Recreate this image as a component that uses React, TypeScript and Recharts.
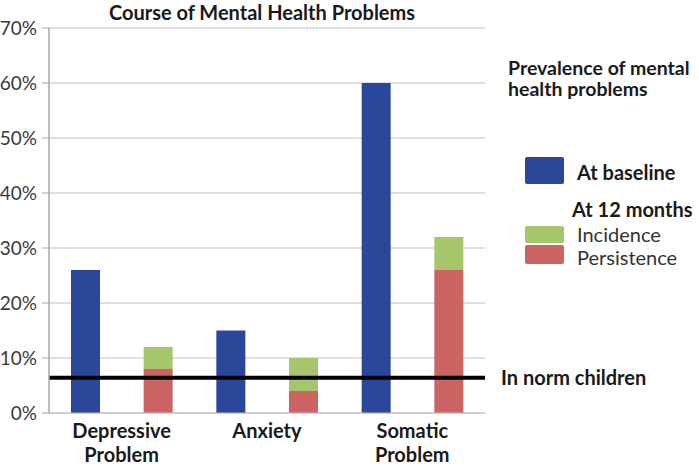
import React from 'react';
import {
  BarChart,
  Bar,
  XAxis,
  YAxis,
  CartesianGrid,
  ReferenceLine,
  Legend
} from 'recharts';

// values (percent of children)
const categories = ['Depressive Problem', 'Anxiety', 'Somatic Problem'];
const atBaseline = [26, 15, 60];
const persistence = [8, 4, 26];
const incidence = [4, 6, 6];
const normLevel = 6.4;
const yTicks = [0, 10, 20, 30, 40, 50, 60, 70];

const COLORS = {
  baseline: '#2B479A',
  incidence: '#A5C66B',
  persistence: '#CB6462'
};

const FONT = 'Lato, "Open Sans", sans-serif';

// each problem takes two slots: baseline bar, then the 12-month stack
const rows = categories.flatMap((name, i) => [
  { slot: `${name}|base`, name, baseline: atBaseline[i] },
  { slot: `${name}|12m`, name, persistence: persistence[i], incidence: incidence[i] }
]);

const GroupTick = (props: any) => {
  const { x, y, index, payload } = props;
  if (index % 2 !== 0) return null;
  const name = String(payload.value).split('|')[0];
  const words = name.split(' ');
  const cx = x + 36.3;
  return (
    <text
      x={cx}
      y={y}
      textAnchor="middle"
      fill="#1a1a1a"
      fontFamily={FONT}
      fontWeight={700}
      fontSize={20}
    >
      {words.map((w, k) => (
        <tspan key={k} x={cx} dy={k === 0 ? 17 : 24}>
          {w}
        </tspan>
      ))}
    </text>
  );
};

const LegendBox = () => {
  const abs = (left: number, top: number): React.CSSProperties => ({
    position: 'absolute',
    left,
    top,
    whiteSpace: 'nowrap',
    lineHeight: '22px'
  });
  const sw = (color: string, top: number, h: number) => (
    <div
      style={{
        position: 'absolute',
        left: 35,
        top,
        width: 39,
        height: h,
        background: color,
        borderRadius: 2
      }}
    />
  );
  return (
    <div style={{ position: 'relative', width: 209, height: 230, fontFamily: FONT, color: '#1a1a1a', fontSize: 20, textAlign: 'left' }}>
      <div style={{ ...abs(18, 7), fontWeight: 700, fontSize: 19.5, lineHeight: '21px' }}>
        Prevalence of mental
        <br />
        health problems
      </div>
      {sw(COLORS.baseline, 107, 27)}
      <div style={{ ...abs(87, 111), fontWeight: 700 }}>At baseline</div>
      <div style={{ ...abs(82, 148), fontWeight: 700 }}>At 12 months</div>
      {sw(COLORS.incidence, 176, 17)}
      <div style={{ ...abs(87, 173), color: '#333' }}>Incidence</div>
      {sw(COLORS.persistence, 195, 19)}
      <div style={{ ...abs(87, 196), color: '#333' }}>Persistence</div>
    </div>
  );
};

export default function App() {
  return (
    <div style={{ position: 'absolute', left: 0, top: 0, width: 699, height: 467, background: '#fff' }}>
      <div
        style={{
          position: 'absolute',
          left: 0,
          width: 524,
          top: 0,
          lineHeight: '24px',
          textAlign: 'center',
          fontFamily: FONT,
          fontWeight: 700,
          fontSize: 20,
          color: '#1a1a1a'
        }}
      >
        Course of Mental Health Problems
      </div>
      <BarChart
        width={699}
        height={467}
        data={rows}
        margin={{ top: 28, right: 214, left: 0, bottom: 24 }}
        barCategoryGap="20%"
      >
        <CartesianGrid vertical={false} stroke="#BFBFBF" strokeWidth={1.2} />
        <XAxis
          dataKey="slot"
          height={30}
          interval={0}
          tickLine={false}
          axisLine={{ stroke: '#BFBFBF' }}
          tick={<GroupTick />}
        />
        <YAxis
          width={49}
          domain={[0, 70]}
          ticks={yTicks}
          tickFormatter={(v: number) => `${v}%`}
          tickSize={7}
          tickMargin={5}
          tickLine={{ stroke: '#A6A6A6' }}
          axisLine={{ stroke: '#A6A6A6', strokeWidth: 1.5 }}
          tick={{ fill: '#3a3a3a', fontSize: 19, fontFamily: FONT }}
        />
        <Bar dataKey="baseline" stackId="s" fill={COLORS.baseline} barSize={29} isAnimationActive={false} />
        <Bar dataKey="persistence" stackId="s" fill={COLORS.persistence} barSize={29} isAnimationActive={false} />
        <Bar dataKey="incidence" stackId="s" fill={COLORS.incidence} barSize={29} isAnimationActive={false} />
        <ReferenceLine
          y={normLevel}
          stroke="#000"
          strokeWidth={4}
          label={{
            value: 'In norm children',
            position: 'right',
            offset: 16,
            fill: '#1a1a1a',
            fontSize: 20,
            fontWeight: 700,
            fontFamily: FONT
          }}
        />
        <Legend
          layout="horizontal"
          verticalAlign="middle"
          align="center"
          wrapperStyle={{ position: 'absolute', left: 490, top: 50, width: 209, height: 230 }}
          content={() => <LegendBox />}
        />
      </BarChart>
    </div>
  );
}
